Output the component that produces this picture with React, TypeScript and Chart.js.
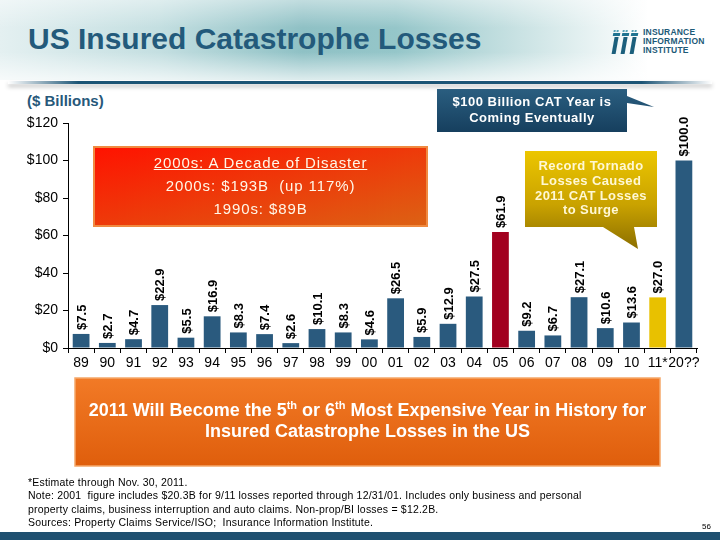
import React, { useEffect, useRef } from 'react';
import { Chart, registerables } from 'chart.js';

Chart.register(...registerables);

const FONT = '"Liberation Sans", Arial, Helvetica, sans-serif';

const categories = ['89', '90', '91', '92', '93', '94', '95', '96', '97', '98', '99', '00', '01', '02', '03', '04', '05', '06', '07', '08', '09', '10', '11*', '20??'];
const losses = [7.5, 2.7, 4.7, 22.9, 5.5, 16.9, 8.3, 7.4, 2.6, 10.1, 8.3, 4.6, 26.5, 5.9, 12.9, 27.5, 61.9, 9.2, 6.7, 27.1, 10.6, 13.6, 27.0, 100.0];
const yMin = 0;
const yMax = 120;
const yStep = 20;

const titleText = 'US Insured Catastrophe Losses';
const unitText = '($ Billions)';
const decadeNote = ['2000s: A Decade of Disaster', '2000s: $193B  (up 117%)', '1990s: $89B'];
const blueNote = ['$100 Billion CAT Year is', 'Coming Eventually'];
const goldNote = ['Record Tornado', 'Losses Caused', '2011 CAT Losses', 'to Surge'];
const logoLines = ['INSURANCE', 'INFORMATION', 'INSTITUTE'];
const footnotes = [
  '*Estimate through Nov. 30, 2011.',
  'Note: 2001  figure includes $20.3B for 9/11 losses reported through 12/31/01. Includes only business and personal',
  'property claims, business interruption and auto claims. Non-prop/BI losses = $12.2B.',
  'Sources: Property Claims Service/ISO;  Insurance Information Institute.',
];
const pageNumber = '56';

const BLUE = '#2a5a7e';
const RED = '#a2001f';
const GOLD = '#e8c100';
const highlightColors: Record<string, string> = { '05': RED, '11*': GOLD };

const valueLabels = {
  id: 'valueLabels',
  afterDatasetsDraw(chart: any) {
    const ctx = chart.ctx;
    const meta = chart.getDatasetMeta(0);
    const data = chart.data.datasets[0].data as number[];
    ctx.save();
    ctx.fillStyle = '#000';
    ctx.font = `bold 13px ${FONT}`;
    ctx.textAlign = 'left';
    ctx.textBaseline = 'middle';
    meta.data.forEach((el: any, i: number) => {
      ctx.save();
      ctx.translate(el.x, el.y - 4);
      ctx.rotate(-Math.PI / 2);
      ctx.fillText('$' + data[i].toFixed(1), 0, 1);
      ctx.restore();
    });
    ctx.restore();
  },
};

function CatChart() {
  const ref = useRef<HTMLCanvasElement | null>(null);
  useEffect(() => {
    if (!ref.current) return;
    const colors = categories.map((c) => highlightColors[c] || BLUE);
    const chart = new Chart(ref.current, {
      type: 'bar',
      data: {
        labels: categories,
        datasets: [
          {
            data: losses,
            backgroundColor: colors,
            borderWidth: 0,
            barPercentage: 0.64,
            categoryPercentage: 1,
          },
        ],
      },
      options: {
        responsive: false,
        animation: false,
        layout: { padding: { top: 123, right: 23, bottom: 162, left: 0 } },
        plugins: { legend: { display: false }, tooltip: { enabled: false } },
        scales: {
          x: {
            grid: { display: true, drawOnChartArea: false, drawTicks: true, tickLength: 5, color: '#000', offset: true },
            border: { display: true, color: '#000', width: 1 },
            ticks: { color: '#000', font: { family: FONT, size: 14 }, padding: 2, maxRotation: 0, autoSkip: false },
            afterFit: (s: any) => {
              s.height = 30;
            },
          },
          y: {
            min: yMin,
            max: yMax,
            ticks: {
              stepSize: yStep,
              color: '#000',
              font: { family: FONT, size: 14 },
              padding: 5,
              callback: (v: any) => '$' + v,
            },
            grid: { display: true, drawOnChartArea: false, drawTicks: true, tickLength: 5, color: '#000' },
            border: { display: true, color: '#000', width: 1 },
            afterFit: (s: any) => {
              s.width = 68;
            },
          },
        },
      },
      plugins: [valueLabels],
    });
    return () => chart.destroy();
  }, []);
  return <canvas ref={ref} width={720} height={540} style={{ position: 'absolute', left: 0, top: 0, width: 720, height: 540 }} />;
}

const abs = (o: React.CSSProperties): React.CSSProperties => ({ position: 'absolute', ...o });

export default function App() {
  return (
    <div style={abs({ left: 0, top: 0, width: 720, height: 540, overflow: 'hidden', background: '#fff', fontFamily: FONT })}>
      {/* header band */}
      <div
        style={abs({
          left: 0,
          top: 0,
          width: 720,
          height: 80,
          background:
            'linear-gradient(180deg, rgba(255,255,255,0.45) 0%, rgba(255,255,255,0) 35%, rgba(255,255,255,0) 65%, rgba(255,255,255,0.7) 100%), linear-gradient(90deg, #e4f0f1 0%, #c4dfe1 22%, #8fc1c5 42%, #95c6c9 55%, #c9e2e3 72%, #ffffff 90%)',
        })}
      />
      <div
        style={abs({
          left: 8,
          top: 81,
          width: 704,
          height: 3,
          background: 'linear-gradient(90deg, rgba(29,84,117,0) 0%, #1d5475 10%, #1d5475 90%, rgba(29,84,117,0) 100%)',
          boxShadow: '0 3px 4px rgba(0,0,0,0.25)',
        })}
      />
      <div style={abs({ left: 28, top: 21, fontSize: 30, fontWeight: 'bold', color: '#235a7b', lineHeight: '36px', whiteSpace: 'nowrap' })}>{titleText}</div>

      {/* logo */}
      <svg width={30} height={26} style={abs({ left: 611, top: 29 })}>
        {[0, 1, 2].map((k) => (
          <g key={k} transform={`translate(${k * 9},0) skewX(-10)`}>
            <rect x={3} y={1} width={2} height={2} fill="#5aa3b8" />
            <rect x={6} y={1} width={2} height={2} fill="#5aa3b8" />
            <rect x={3} y={4} width={7} height={3} fill="#1f7391" />
            <rect x={5} y={8} width={4} height={17} fill="#1b5f7c" />
          </g>
        ))}
      </svg>
      <div style={abs({ left: 643, top: 28, fontSize: 8.5, fontWeight: 'bold', color: '#1d5a78', lineHeight: '9px', letterSpacing: '0.2px' })}>
        {logoLines.map((l) => (
          <div key={l}>{l}</div>
        ))}
      </div>

      <div style={abs({ left: 27, top: 92, fontSize: 15, fontWeight: 'bold', color: '#27587a', lineHeight: '18px' })}>{unitText}</div>

      <CatChart />

      {/* callout shapes */}
      <svg width={720} height={540} style={abs({ left: 0, top: 0, pointerEvents: 'none' })}>
        <defs>
          <linearGradient id="gBlue" x1="0" y1="0" x2="0" y2="1">
            <stop offset="0%" stopColor="#2a5e80" />
            <stop offset="100%" stopColor="#163f5e" />
          </linearGradient>
          <linearGradient id="gGold" x1="0" y1="151" x2="0" y2="249" gradientUnits="userSpaceOnUse">
            <stop offset="0%" stopColor="#ecc600" />
            <stop offset="55%" stopColor="#c9a200" />
            <stop offset="100%" stopColor="#8c6f00" />
          </linearGradient>
          <linearGradient id="gRed" x1="0" y1="0" x2="1" y2="1">
            <stop offset="0%" stopColor="#ff1200" />
            <stop offset="100%" stopColor="#dc6214" />
          </linearGradient>
          <linearGradient id="gOrange" x1="0" y1="0" x2="0" y2="1">
            <stop offset="0%" stopColor="#f27a26" />
            <stop offset="100%" stopColor="#df5e0c" />
          </linearGradient>
        </defs>
        <path d="M437,89 H627 V96 L654,107 L627,103 V132 H437 Z" fill="url(#gBlue)" />
        <path d="M525,151 H657 V227 H634 L638,249 L603,227 H525 Z" fill="url(#gGold)" />
        <rect x={94} y={147} width={333} height={79} fill="url(#gRed)" stroke="#f08a40" strokeWidth={2} />
        <rect x={75} y={378} width={585} height={88} fill="url(#gOrange)" stroke="#f5a86a" strokeWidth={1.5} />
        <rect x={0} y={532} width={720} height={8} fill="#1f5070" />
      </svg>

      {/* callout texts */}
      <div style={abs({ left: 93, top: 146, width: 335, paddingTop: 5, textAlign: 'center', color: '#fff7e8', fontSize: 15, lineHeight: '23px', letterSpacing: '0.9px' })}>
        <div style={{ textDecoration: 'underline' }}>{decadeNote[0]}</div>
        <div style={{ whiteSpace: 'pre' }}>{decadeNote[1]}</div>
        <div>{decadeNote[2]}</div>
      </div>
      <div style={abs({ left: 437, top: 89, width: 190, paddingTop: 5, textAlign: 'center', color: '#fff', fontSize: 13, fontWeight: 'bold', lineHeight: '16px', letterSpacing: '0.5px' })}>
        {blueNote.map((l) => (
          <div key={l}>{l}</div>
        ))}
      </div>
      <div style={abs({ left: 525, top: 151, width: 132, paddingTop: 8, textAlign: 'center', color: '#fff8d4', fontSize: 13, fontWeight: 'bold', lineHeight: '14.8px', letterSpacing: '0.4px' })}>
        {goldNote.map((l) => (
          <div key={l}>{l}</div>
        ))}
      </div>
      <div style={abs({ left: 75, top: 378, width: 585, paddingTop: 22, textAlign: 'center', color: '#fff', fontSize: 18, fontWeight: 'bold', lineHeight: '21px' })}>
        <div>
          2011 Will Become the 5<sup style={{ fontSize: 11, lineHeight: 0 }}>th</sup> or 6<sup style={{ fontSize: 11, lineHeight: 0 }}>th</sup> Most Expensive Year in History for
        </div>
        <div>Insured Catastrophe Losses in the US</div>
      </div>

      <div style={abs({ left: 28, top: 476, fontSize: 10.5, lineHeight: '13.4px', color: '#000', whiteSpace: 'pre', letterSpacing: '0.2px' })}>
        {footnotes.map((l) => (
          <div key={l}>{l}</div>
        ))}
      </div>
      <div style={abs({ left: 702, top: 522, fontSize: 8, color: '#000' })}>{pageNumber}</div>
    </div>
  );
}
